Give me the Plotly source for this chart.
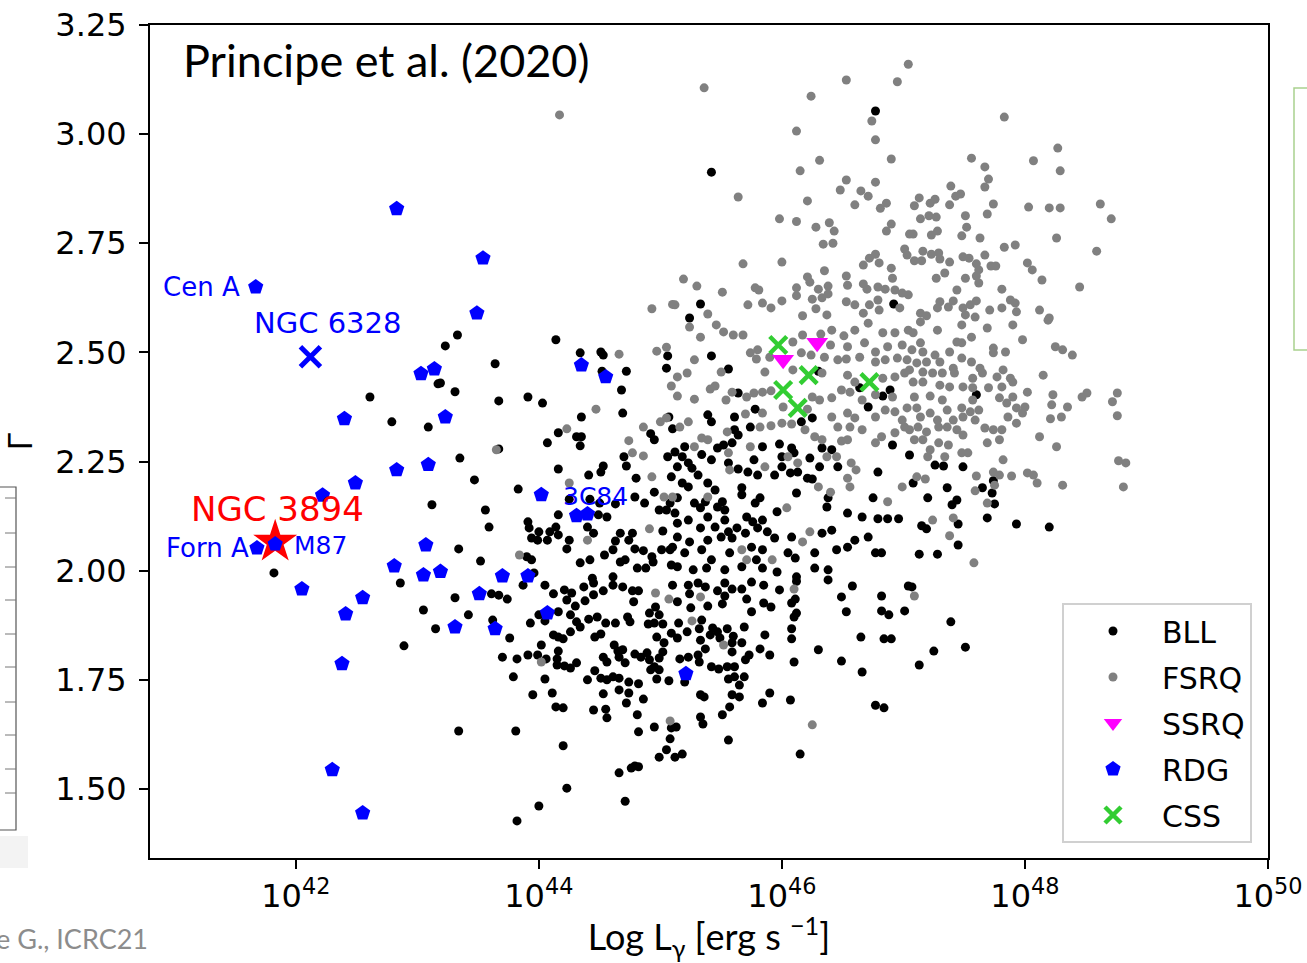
import plotly.graph_objects as go

# ---------------- data (log10 L_gamma [erg/s], photon index Gamma) ----------------
bll_logL = [46.77,45.42,46.92,45.33,45.24,
43.33,43.23,44.14,43.64,44.34,44.51,44.53,44.52,44.72,45.06,45.05,43.19,43.31,43.67,43.91,44.03,44.68,44.69,44.35,44.16,44.31,44.35,44.34,44.07,45.07,45.10,44.92,44.95,44.70,44.72,45.06,43.67,43.35,43.47,44.16,44.53,44.51,44.41,44.80,45.09,43.83,44.25,44.42,44.50,44.63,44.79,44.87,44.95,44.99,45.05,45.08,43.56,43.59,44.16,44.49,44.56,43.91,43.92,44.0,44.09,44.14,44.16,43.94,43.99,44.07,44.25,44.23,44.40,44.45,44.67,44.77,44.63,44.74,45.02,44.79,44.86,44.93,45.01,45.08,45.10,44.54,44.61,44.67,44.71,43.34,43.52,43.90,43.94,44.34,44.42,44.81,44.88,44.94,45.09,43.96,44.44,44.61,
43.31,43.42,43.61,43.67,43.74,43.62,43.76,43.87,44.05,44.12,43.93,44.0,44.05,44.16,44.21,44.23,44.27,44.30,44.37,44.38,44.45,44.45,44.53,44.61,44.69,44.77,44.82,44.78,45.10,44.91,44.96,44.99,44.90,44.95,45.02,44.26,44.31,44.34,44.41,44.48,44.55,44.63,44.73,44.75,44.12,44.16,44.20,44.26,44.46,44.51,44.97,45.03,45.09,44.02,43.70,43.82,43.91,43.99,44.06,44.16,44.15,44.15,44.21,44.26,44.31,44.53,44.56,44.62,44.65,44.69,44.66,44.71,44.79,44.84,44.89,44.91,44.95,44.99,45.02,44.99,44.92,44.97,45.07,44.46,44.40,44.51,44.56,44.61,44.66,44.74,44.82,44.66,44.74,43.79,44.05,43.95,44.11,44.14,44.20,44.53,44.72,44.86,44.45,44.55,44.56,44.81,44.95,45.09,44.82,45.08,45.05,44.99,43.34,43.81,44.20,44.66,44.76,44.79,44.82,44.23,44.71,44.0,43.82,
45.23,45.31,45.37,45.53,45.59,45.67,45.75,45.85,45.98,46.12,46.38,46.58,47.04,45.14,45.24,45.39,45.47,45.51,45.53,45.71,45.85,45.91,46.11,46.08,45.75,45.25,46.12,46.10,46.49,46.53,46.82,46.82,46.88,47.01,45.15,45.34,45.32,45.22,45.14,45.43,45.47,45.55,45.41,45.49,45.60,45.69,45.59,45.67,45.86,46.08,46.08,46.65,46.84,46.90,45.33,45.37,45.31,45.16,45.23,45.32,45.59,45.73,45.70,45.82,45.90,46.30,46.10,46.49,46.66,45.20,45.42,45.48,45.55,45.61,45.56,45.61,45.69,45.65,45.33,45.36,45.59,45.65,45.90,45.84,46.07,45.57,45.51,45.33,45.35,45.13,45.56,46.77,46.84,45.18,45.12,46.15,
47.07,47.39,47.51,47.25,47.13,
45.56,45.42,46.30,45.64,46.64,46.89,46.83,45.78,46.25,46.16,46.71,45.61,45.74,45.39,45.42,45.61,45.64,46.91,45.12,45.20,45.34,45.47,45.52,45.59,45.84,45.98,46.08,46.10,46.0,46.23,46.33,46.41,46.46,46.31,46.79,45.18,45.23,45.14,45.26,45.31,45.42,45.56,45.64,45.72,45.77,45.80,45.94,46.0,46.07,46.13,46.21,46.25,46.12,45.18,45.23,45.39,45.14,45.45,45.67,45.67,45.82,45.28,45.37,45.51,45.33,45.47,45.53,45.78,45.96,46.38,46.37,46.54,46.66,46.79,46.87,46.96,46.75,45.12,45.23,45.39,45.53,45.71,45.76,45.84,45.14,45.33,45.45,45.56,45.63,45.70,45.80,45.88,45.94,46.08,46.33,46.41,46.45,46.54,46.60,46.71,46.82,46.77,45.14,45.24,45.39,45.50,45.59,45.75,45.84,45.20,45.34,45.42,45.57,45.79,46.05,46.11,46.27,46.27,46.38,45.14,45.27,45.38,45.53,45.67,45.84,45.96,46.12,
47.60,47.74,47.65,47.73,47.75,47.08,47.26,47.33,47.49,47.05,47.36,47.20,47.44,47.40,47.69,47.93,48.20,47.15,47.19,47.45,47.45,47.13,47.28,
43.17,42.61,42.79,43.09,43.12,41.82,42.86,43.05,43.15,42.89]
bll_gamma = [3.053,2.913,2.611,2.611,2.579,
2.54,2.515,2.529,2.474,2.499,2.501,2.494,2.457,2.457,2.492,2.464,2.43,2.41,2.389,2.398,2.384,2.414,2.361,2.352,2.316,2.307,2.307,2.286,2.293,2.352,2.325,2.314,2.30,2.261,2.24,2.261,2.279,2.258,2.208,2.233,2.24,2.226,2.219,2.212,2.215,2.187,2.164,2.164,2.155,2.153,2.169,2.155,2.18,2.139,2.139,2.155,2.139,2.10,2.128,2.128,2.123,2.112,2.098,2.089,2.089,2.10,2.082,2.075,2.07,2.07,2.07,2.05,2.10,2.086,2.086,2.086,2.068,2.07,2.091,2.05,2.046,2.032,2.048,2.048,2.054,2.036,2.048,2.02,2.025,2.05,2.022,2.032,2.025,2.018,2.025,2.006,2.006,2.02,2.013,1.995,1.983,1.986,
1.938,1.899,1.947,1.944,1.935,1.887,1.846,1.967,1.967,1.947,1.88,1.899,1.885,1.906,1.956,1.933,1.949,1.919,1.963,1.931,1.945,1.972,1.954,1.967,1.963,1.954,1.954,1.929,1.967,1.903,1.917,1.899,1.878,1.88,1.878,1.899,1.883,1.871,1.889,1.894,1.88,1.88,1.894,1.883,1.853,1.848,1.844,1.86,1.848,1.855,1.848,1.835,1.857,1.83,1.802,1.798,1.807,1.807,1.798,1.816,1.798,1.784,1.782,1.777,1.789,1.802,1.791,1.83,1.816,1.819,1.802,1.789,1.809,1.802,1.812,1.796,1.78,1.80,1.814,1.773,1.773,1.752,1.748,1.771,1.75,1.754,1.75,1.757,1.754,1.745,1.741,1.727,1.72,1.757,1.752,1.716,1.72,1.688,1.686,1.718,1.697,1.706,1.681,1.683,1.663,1.67,1.642,1.64,1.631,1.615,1.59,1.573,1.633,1.633,1.599,1.537,1.548,1.553,1.551,1.502,1.472,1.461,1.427,
1.967,1.972,1.963,1.972,1.958,1.958,1.974,1.967,1.956,1.976,1.979,1.965,1.965,1.929,1.947,1.919,1.954,1.924,1.942,1.935,1.926,1.917,1.935,1.926,1.906,1.915,1.903,1.894,1.94,1.906,1.942,1.908,1.899,1.908,1.88,1.887,1.867,1.86,1.846,1.869,1.86,1.867,1.853,1.846,1.85,1.871,1.835,1.835,1.853,1.867,1.844,1.848,1.844,1.844,1.841,1.821,1.807,1.798,1.802,1.791,1.814,1.807,1.796,1.821,1.807,1.819,1.791,1.793,1.768,1.745,1.78,1.775,1.78,1.78,1.752,1.757,1.757,1.738,1.716,1.711,1.716,1.711,1.72,1.697,1.704,1.688,1.67,1.665,1.649,1.642,1.612,1.692,1.686,1.58,1.573,1.58,
1.963,1.883,1.825,1.816,1.784,
2.462,2.492,2.457,2.407,2.419,2.414,2.40,2.37,2.35,2.341,2.375,2.352,2.329,2.357,2.341,2.323,2.311,2.288,2.272,2.284,2.266,2.281,2.288,2.293,2.284,2.29,2.281,2.27,2.261,2.258,2.281,2.277,2.238,2.238,2.226,2.261,2.247,2.238,2.235,2.219,2.254,2.247,2.233,2.226,2.254,2.219,2.219,2.238,2.224,2.226,2.212,2.21,2.178,2.201,2.192,2.201,2.167,2.185,2.19,2.174,2.167,2.155,2.158,2.158,2.144,2.146,2.139,2.155,2.135,2.167,2.146,2.132,2.123,2.119,2.119,2.119,2.167,2.132,2.116,2.123,2.116,2.123,2.112,2.116,2.109,2.098,2.10,2.089,2.098,2.086,2.098,2.089,2.075,2.077,2.086,2.093,2.048,2.054,2.07,2.077,2.041,2.041,2.077,2.066,2.07,2.077,2.075,2.054,2.048,2.041,2.048,2.025,2.041,2.025,2.041,2.029,2.041,2.006,2.002,2.009,2.002,2.006,2.002,2.009,2.006,1.997,1.986,
2.403,2.206,2.19,2.178,2.153,2.201,2.242,2.24,2.238,2.265,2.19,2.167,2.162,2.151,2.121,2.107,2.10,2.103,2.096,2.107,2.059,2.038,2.038,
2.428,2.398,2.341,2.329,2.151,1.995,1.972,1.91,1.867,1.828]

fsrq_logL = [44.17,44.93,45.10,
45.36,46.53,46.95,47.04,46.24,46.74,46.12,46.77,46.31,46.90,46.15,45.64,46.53,46.77,46.48,46.65,46.71,46.21,46.60,46.81,46.86,45.98,46.12,46.28,46.39,46.43,46.90,46.86,47.05,46.34,46.42,47.01,47.03,45.68,46.0,46.72,46.77,46.67,46.80,46.90,46.35,45.19,45.30,45.51,46.21,46.23,46.53,46.54,45.78,45.81,46.12,46.12,46.30,46.38,46.38,46.67,46.70,46.79,46.85,46.91,46.93,46.99,47.04,45.72,45.84,45.91,46.0,46.25,46.28,46.33,46.37,46.53,46.60,46.67,46.72,46.79,46.80,46.97,45.39,46.17,45.12,
47.83,48.27,48.07,48.29,47.56,47.67,47.70,47.67,47.39,47.43,47.47,47.13,47.09,47.22,47.26,47.38,47.74,48.03,48.20,48.29,48.62,48.71,47.69,47.51,47.52,47.14,47.21,47.27,47.08,47.28,47.23,47.48,47.63,48.26,48.59,47.83,47.92,47.16,47.23,47.29,47.30,47.09,47.15,47.38,47.49,47.54,47.67,47.60,47.62,47.72,47.76,48.02,48.06,48.14,48.45,47.27,47.34,47.51,47.60,47.62,47.44,47.81,47.30,47.28,47.37,47.41,47.49,47.55,47.60,47.71,47.81,47.88,47.92,47.93,48.12,48.20,47.14,47.19,47.51,47.59,
44.66,44.97,45.05,45.09,44.47,44.23,44.86,45.0,45.05,44.74,44.77,44.86,43.65,44.93,44.25,45.03,45.10,44.40,44.91,43.84,
44.96,45.07,44.02,45.08,46.10,45.33,45.26,45.52,46.25,47.09,
45.24,45.46,45.52,45.60,45.68,45.33,46.17,46.32,46.41,46.51,46.60,46.71,46.83,46.93,47.04,46.09,46.40,46.54,46.68,46.77,46.87,46.99,45.74,45.80,45.90,45.79,46.16,46.24,46.35,46.46,46.53,46.64,46.77,46.85,46.95,47.03,45.28,45.50,45.14,45.22,45.86,46.09,46.33,46.54,46.60,46.83,46.93,47.01,45.41,45.45,45.59,45.71,45.77,45.84,45.91,46.25,46.31,46.41,46.49,46.56,46.66,46.77,46.91,47.03,45.14,45.28,45.54,45.70,45.84,46.01,46.21,46.41,46.54,46.60,46.77,46.85,46.93,46.99,45.82,45.91,46.0,46.08,46.19,46.46,46.56,46.66,46.82,46.93,47.01,45.16,45.23,45.55,45.34,45.39,46.27,46.33,46.49,46.54,46.77,45.28,45.56,45.74,46.05,46.37,46.45,46.57,46.61,46.54,46.56,46.99,45.57,45.86,46.13,46.30,46.40,45.39,46.04,46.87,46.23,46.17,45.67,45.71,45.92,
47.14,47.28,47.48,47.56,47.69,47.90,47.98,48.19,48.25,48.31,48.39,47.08,47.14,47.07,47.16,47.38,47.44,47.48,47.26,47.74,47.84,47.74,47.11,47.19,47.30,47.41,47.48,47.56,47.63,47.05,47.16,47.24,47.32,47.42,47.77,47.82,47.88,48.15,47.57,47.65,47.08,47.16,47.30,47.38,47.49,47.57,47.70,47.81,47.90,48.02,48.23,48.47,48.51,48.76,48.72,48.76,47.09,47.22,47.32,47.57,47.79,47.90,47.85,47.93,48.0,47.98,48.22,48.35,48.30,48.21,47.86,47.93,47.11,47.14,47.22,47.36,47.48,47.55,47.62,47.49,47.59,47.41,47.28,47.36,47.29,47.12,47.05,47.19,47.44,47.49,47.67,47.74,47.81,47.79,47.69,48.12,48.26,48.77,48.83,48.81,48.31,47.09,47.16,47.29,47.37,47.22,47.20,47.34,47.48,47.53,47.82,47.74,47.79,47.89,48.02,48.07,48.10,47.60,47.59,47.75,47.69,47.11,47.18,47.24,47.41,47.38,47.58]
fsrq_gamma = [3.044,2.60,2.61,
3.106,3.124,3.12,3.16,3.087,3.03,3.007,2.987,2.94,2.943,2.916,2.856,2.895,2.89,2.872,2.87,2.858,2.847,2.838,2.83,2.842,2.806,2.80,2.787,2.797,2.778,2.794,2.778,2.771,2.748,2.75,2.737,2.723,2.703,2.707,2.716,2.725,2.70,2.705,2.693,2.687,2.668,2.652,2.638,2.673,2.661,2.675,2.654,2.648,2.643,2.648,2.63,2.645,2.652,2.634,2.657,2.645,2.65,2.645,2.67,2.643,2.636,2.632,2.609,2.613,2.602,2.618,2.622,2.60,2.625,2.586,2.616,2.609,2.59,2.609,2.62,2.597,2.602,2.588,2.584,2.609,
3.039,2.968,2.939,2.916,2.945,2.925,2.897,2.879,2.881,2.858,2.863,2.854,2.836,2.842,2.851,2.838,2.84,2.833,2.831,2.831,2.84,2.806,2.817,2.813,2.787,2.806,2.813,2.81,2.771,2.778,2.769,2.767,2.762,2.762,2.732,2.741,2.746,2.732,2.725,2.728,2.714,2.71,2.71,2.707,2.719,2.716,2.723,2.703,2.689,2.698,2.698,2.705,2.689,2.666,2.65,2.67,2.682,2.67,2.675,2.659,2.643,2.645,2.616,2.602,2.604,2.618,2.602,2.609,2.618,2.597,2.602,2.62,2.613,2.593,2.597,2.579,2.59,2.584,2.586,2.581,
2.496,2.503,2.512,2.423,2.37,2.325,2.329,2.341,2.35,2.298,2.27,2.263,2.277,2.215,2.201,2.169,2.169,2.07,2.096,2.036,
1.949,1.935,1.791,1.656,1.958,1.94,1.885,1.83,1.647,1.942,
2.558,2.563,2.547,2.54,2.54,2.535,2.54,2.542,2.551,2.538,2.551,2.567,2.545,2.545,2.551,2.524,2.517,2.513,2.522,2.501,2.513,2.517,2.499,2.506,2.489,2.485,2.499,2.494,2.489,2.483,2.485,2.489,2.478,2.483,2.487,2.483,2.483,2.455,2.444,2.453,2.455,2.46,2.453,2.448,2.432,2.441,2.444,2.453,2.416,2.423,2.409,2.398,2.407,2.409,2.412,2.398,2.391,2.396,2.414,2.409,2.391,2.403,2.398,2.373,2.40,2.393,2.391,2.359,2.361,2.375,2.37,2.352,2.361,2.35,2.352,2.368,2.364,2.345,2.329,2.332,2.338,2.336,2.323,2.329,2.329,2.323,2.307,2.316,2.329,2.329,2.341,2.318,2.304,2.30,2.307,2.30,2.297,2.30,2.293,2.284,2.27,2.284,2.261,2.261,2.261,2.247,2.231,2.212,2.192,2.192,2.231,2.238,2.247,2.192,2.18,2.169,2.144,2.158,2.089,2.066,2.048,2.025,2.025,
2.57,2.551,2.563,2.535,2.556,2.563,2.529,2.574,2.513,2.506,2.494,2.545,2.522,2.506,2.501,2.501,2.524,2.522,2.494,2.51,2.501,2.499,2.476,2.478,2.478,2.464,2.487,2.478,2.464,2.46,2.455,2.453,2.453,2.453,2.444,2.46,2.441,2.448,2.441,2.453,2.432,2.432,2.425,2.421,2.421,2.419,2.419,2.421,2.432,2.409,2.403,2.398,2.407,2.407,2.387,2.355,2.398,2.40,2.391,2.391,2.396,2.398,2.384,2.373,2.375,2.361,2.38,2.375,2.352,2.348,2.352,2.338,2.373,2.352,2.361,2.368,2.373,2.364,2.368,2.352,2.345,2.345,2.345,2.329,2.329,2.329,2.323,2.318,2.323,2.311,2.327,2.323,2.323,2.30,2.293,2.307,2.284,2.252,2.247,2.192,2.196,2.30,2.30,2.293,2.288,2.277,2.261,2.261,2.27,2.27,2.254,2.226,2.219,2.217,2.224,2.219,2.201,2.217,2.183,2.196,2.155,2.215,2.21,2.116,2.121,2.08,2.018]

ssrq_logL = [46.29, 46.01]
ssrq_gamma = [2.522, 2.483]

rdg_logL = [43.54,43.49,44.35,44.55,43.23,44.02,44.31,44.40,43.19,43.70,43.91,43.51,43.31,43.64,44.07,45.21,
42.83,41.67,43.03,43.14,42.40,42.83,43.09,42.49,42.22,43.07,42.81,43.05,42.05,42.55,42.41,42.38,42.30,42.55,41.68,41.83]
rdg_gamma = [2.716,2.59,2.471,2.444,2.352,2.174,2.126,2.13,1.998,1.988,1.988,1.947,1.871,1.867,1.903,1.764,
2.829,2.65,2.451,2.462,2.348,2.231,2.243,2.201,2.173,2.059,2.011,1.99,1.958,1.938,1.901,1.787,1.544,1.445,2.052,2.061]

css_logL = [45.97, 46.22, 46.01, 46.13, 46.72]
css_gamma = [2.517, 2.448, 2.414, 2.373, 2.432]

ngc6328 = (42.12, 2.49)
ngc3894 = (41.83, 2.066)

labels = [  # text, logL, gamma, colour, size
    ("Cen A", 41.22, 2.65, "blue", 26),
    ("NGC 6328", 42.26, 2.568, "blue", 29),
    ("NGC 3894", 41.85, 2.141, "red", 34),
    ("Forn A", 41.27, 2.053, "blue", 26),
    ("M87", 42.20, 2.057, "blue", 25),
    ("3C84", 44.47, 2.17, "blue", 25),
]

# ---------------- figure ----------------
def tolin(v):
    return [10 ** x for x in v]

fig = go.Figure()
fig.add_trace(go.Scatter(x=tolin(bll_logL), y=bll_gamma, mode="markers", name="BLL", legendgroup="a",
                         marker=dict(color="black", size=9, line=dict(width=0))))
fig.add_trace(go.Scatter(x=tolin(fsrq_logL), y=fsrq_gamma, mode="markers", name="FSRQ", legendgroup="b",
                         marker=dict(color="#808080", size=9, line=dict(width=0))))
fig.add_trace(go.Scatter(x=tolin(ssrq_logL), y=ssrq_gamma, mode="markers", name="SSRQ", legendgroup="c",
                         marker=dict(color="#ff00ff", size=19, symbol="triangle-down", line=dict(width=0))))
fig.add_trace(go.Scatter(x=[10 ** ngc3894[0]], y=[ngc3894[1]], mode="markers", showlegend=False,
                         marker=dict(color="red", size=33, symbol="star", line=dict(width=0))))
fig.add_trace(go.Scatter(x=[10 ** ngc6328[0]], y=[ngc6328[1]], mode="markers", showlegend=False,
                         marker=dict(color="blue", size=20, symbol="x-thin", line=dict(width=5, color="blue"))))
fig.add_trace(go.Scatter(x=tolin(rdg_logL), y=rdg_gamma, mode="markers", name="RDG", legendgroup="d",
                         marker=dict(color="blue", size=16, symbol="pentagon", line=dict(width=0))))
fig.add_trace(go.Scatter(x=tolin(css_logL), y=css_gamma, mode="markers", name="CSS", legendgroup="e",
                         marker=dict(color="#32cd32", size=17, symbol="x-thin", line=dict(width=4.5, color="#32cd32"))))

for text, lx, gy, col, fs in labels:
    fig.add_annotation(x=lx, y=gy, xref="x", yref="y", text=text, showarrow=False,
                       font=dict(family="DejaVu Sans", size=fs, color=col), xanchor="center")

# title inside the axes
fig.add_annotation(x=0.028, y=0.958, xref="paper", yref="paper", text="Principe et al. (2020)",
                   showarrow=False, xanchor="left", yanchor="middle",
                   font=dict(family="Lato", size=45, color="black"))
# slide footer text (cut at the left edge, as on the slide)
fig.add_annotation(x=-0.005 - 150 / 1118, y=-(938 - 858) / 833, xref="paper", yref="paper",
                   text="e G., ICRC21", showarrow=False, xanchor="left", yanchor="middle",
                   font=dict(family="Lato", size=27, color="#8c8c8c"))

# slide decorations (partial neighbouring panel and box)
def px(xp):
    return (xp - 150) / 1118
def py(yp):
    return (858 - yp) / 833

shapes = []
shapes.append(dict(type="rect", xref="paper", yref="paper", x0=px(-5), x1=px(28), y0=py(868), y1=py(836),
                   fillcolor="#f3f3f3", line=dict(width=0), layer="below"))
shapes.append(dict(type="rect", xref="paper", yref="paper", x0=px(-5), x1=px(16), y0=py(830), y1=py(487),
                   fillcolor="rgba(0,0,0,0)", line=dict(width=1.2, color="#555555")))
for yy in [498, 533, 567, 600, 634, 667, 702, 735, 769, 793]:
    shapes.append(dict(type="line", xref="paper", yref="paper", x0=px(5), x1=px(16), y0=py(yy), y1=py(yy),
                       line=dict(width=1, color="#777777")))
shapes.append(dict(type="rect", xref="paper", yref="paper", x0=px(1294), x1=px(1320), y0=py(350), y1=py(88),
                   fillcolor="rgba(0,0,0,0)", line=dict(width=1.5, color="#a9d18e")))

fig.update_layout(
    width=1307, height=963,
    margin=dict(l=150, r=39, t=25, b=105, autoexpand=False),
    paper_bgcolor="white", plot_bgcolor="white",
    shapes=shapes,
    font=dict(family="DejaVu Sans", color="black"),
    legend=dict(x=px(1252), xanchor="right", y=py(843), yanchor="bottom",
                bgcolor="white", bordercolor="#d0d0d0", borderwidth=2,
                font=dict(family="DejaVu Sans", size=30), itemwidth=88,
                tracegroupgap=4),
    xaxis=dict(type="log", range=[40.8, 50], automargin=False,
               tickvals=[1e42, 1e44, 1e46, 1e48, 1e50],
               ticktext=["10<sup>42</sup>", "10<sup>44</sup>", "10<sup>46</sup>", "10<sup>48</sup>", "10<sup>50</sup>"],
               ticks="outside", ticklen=9, tickwidth=2, tickcolor="black",
               showline=True, linecolor="black", linewidth=2, mirror=True,
               showgrid=False, zeroline=False,
               tickfont=dict(family="DejaVu Sans", size=32),
               title=dict(text="Log L<sub>γ</sub> [erg s <sup>−1</sup>]",
                          font=dict(family="Lato", size=36), standoff=12)),
    yaxis=dict(range=[1.342, 3.25], automargin=False,
               tickvals=[1.5, 1.75, 2.0, 2.25, 2.5, 2.75, 3.0, 3.25], tickformat=".2f",
               ticks="outside", ticklen=9, tickwidth=2, tickcolor="black",
               showline=True, linecolor="black", linewidth=2, mirror=True,
               showgrid=False, zeroline=False, ticklabelstandoff=6,
               tickfont=dict(family="DejaVu Sans", size=32),
               title=dict(text="Γ", font=dict(family="Lato", size=32), standoff=30)),
)

fig.write_html("out.html")
